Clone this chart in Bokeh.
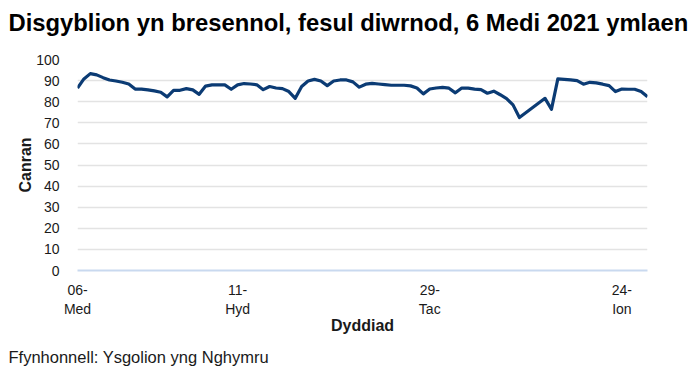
from bokeh.plotting import figure
from bokeh.models import Range1d, FixedTicker, Title
from bokeh.embed import file_html
from bokeh.resources import INLINE

title_text = "Disgyblion yn bresennol, fesul diwrnod, 6 Medi 2021 ymlaen"
footer_text = "Ffynhonnell: Ysgolion yng Nghymru"
x_label = "Dyddiad"
y_label = "Canran"

# attendance percentage per school day (index); None = no data (holiday)
attendance = [
    86.5, 90.8, 93.3, 92.7, 91.4, 90.3, 89.8, 89.2, 88.4, 86.0,
    86.0, 85.6, 85.1, 84.5, 82.3, 85.4, 85.4, 86.2, 85.6, 83.5,
    87.4, 88.0, 88.0, 88.0, 85.9, 88.0, 88.6, 88.4, 88.0, 85.7,
    87.2, 86.5, 86.2, 84.8, 81.6, 87.2, 89.8, 90.6, 89.8, 87.6,
    89.8, 90.3, 90.3, 89.4, 86.9, 88.3, 88.7, 88.4, 88.1, 87.8,
    87.8, 87.8, 87.5, 86.5, 83.7, 86.0, 86.5, 86.8, 86.4, 84.2,
    86.5, 86.4, 86.0, 85.7, 84.0, 85.0, 83.3, 81.5, 78.5, 72.5,
    None, None, None, 81.6, 76.4, 90.8, 90.6, 90.3, 90.0, 88.3,
    89.2, 88.9, 88.3, 87.6, 84.8, 86.0, 85.9, 85.9, 84.8, 82.4,
]
tick_positions = [0, 25, 55, 85]
tick_labels = ["06-\nMed", "11-\nHyd", "29-\nTac", "24-\nIon"]
y_ticks = list(range(0, 101, 10))

xs = [i for i, v in enumerate(attendance) if v is not None]
ys = [v for v in attendance if v is not None]

FONT = "Liberation Sans"
TXT = "#1a1a1a"

p = figure(frame_width=570, frame_height=211, title=None,
           x_range=Range1d(0, len(attendance) - 1),
           y_range=Range1d(0, 100), toolbar_location=None, output_backend="svg",
           min_border_left=77, min_border_right=47, min_border_top=59,
           min_border_bottom=108)
p.outline_line_color = None
p.background_fill_color = "white"

# spacer panel between the frame and the title (nearest the frame)
p.add_layout(Title(text=" ", text_font=FONT, text_font_size="10px",
                   standoff=11), "above")
p.add_layout(Title(text=title_text, align="left", text_font=FONT,
                   text_font_size="23.8px", text_font_style="bold",
                   text_color="black", offset=-69, standoff=0), "above")

p.add_layout(Title(text=footer_text, align="left", vertical_align="top",
                   text_font=FONT, text_font_size="16.5px",
                   text_font_style="normal", text_color=TXT,
                   offset=-69, standoff=22), "below")

p.line(xs, ys, line_color="#0b3b74", line_width=3.2, line_join="round")

p.xaxis.ticker = FixedTicker(ticks=tick_positions)
p.xaxis.major_label_overrides = {t: l for t, l in zip(tick_positions, tick_labels)}
p.xaxis.axis_line_color = "#c9d9ef"
p.xaxis.axis_line_width = 2
p.xaxis.major_tick_line_color = None
p.xaxis.minor_tick_line_color = None
p.xaxis.major_label_text_font = FONT
p.xaxis.major_label_text_font_size = "14px"
p.xaxis.major_label_text_color = TXT
p.xaxis.major_label_standoff = 5
p.xaxis.axis_label = x_label
p.xaxis.axis_label_text_font = FONT
p.xaxis.axis_label_text_font_size = "16px"
p.xaxis.axis_label_text_font_style = "bold"
p.xaxis.axis_label_text_color = TXT
p.xaxis.axis_label_standoff = -3

p.yaxis.ticker = FixedTicker(ticks=y_ticks)
p.yaxis.axis_line_color = None
p.yaxis.major_tick_line_color = None
p.yaxis.minor_tick_line_color = None
p.yaxis.major_label_text_font = FONT
p.yaxis.major_label_text_font_size = "14px"
p.yaxis.major_label_text_color = TXT
p.yaxis.major_label_standoff = 12
p.yaxis.axis_label = y_label
p.yaxis.axis_label_text_font = FONT
p.yaxis.axis_label_text_font_size = "16px"
p.yaxis.axis_label_text_font_style = "bold"
p.yaxis.axis_label_text_color = TXT
p.yaxis.axis_label_standoff = -1

p.xgrid.grid_line_color = None
p.ygrid.ticker = FixedTicker(ticks=y_ticks[1:])
p.ygrid.grid_line_color = "#e3e3e3"
p.ygrid.grid_line_width = 1.5

open("out.html", "w").write(file_html(p, INLINE))
